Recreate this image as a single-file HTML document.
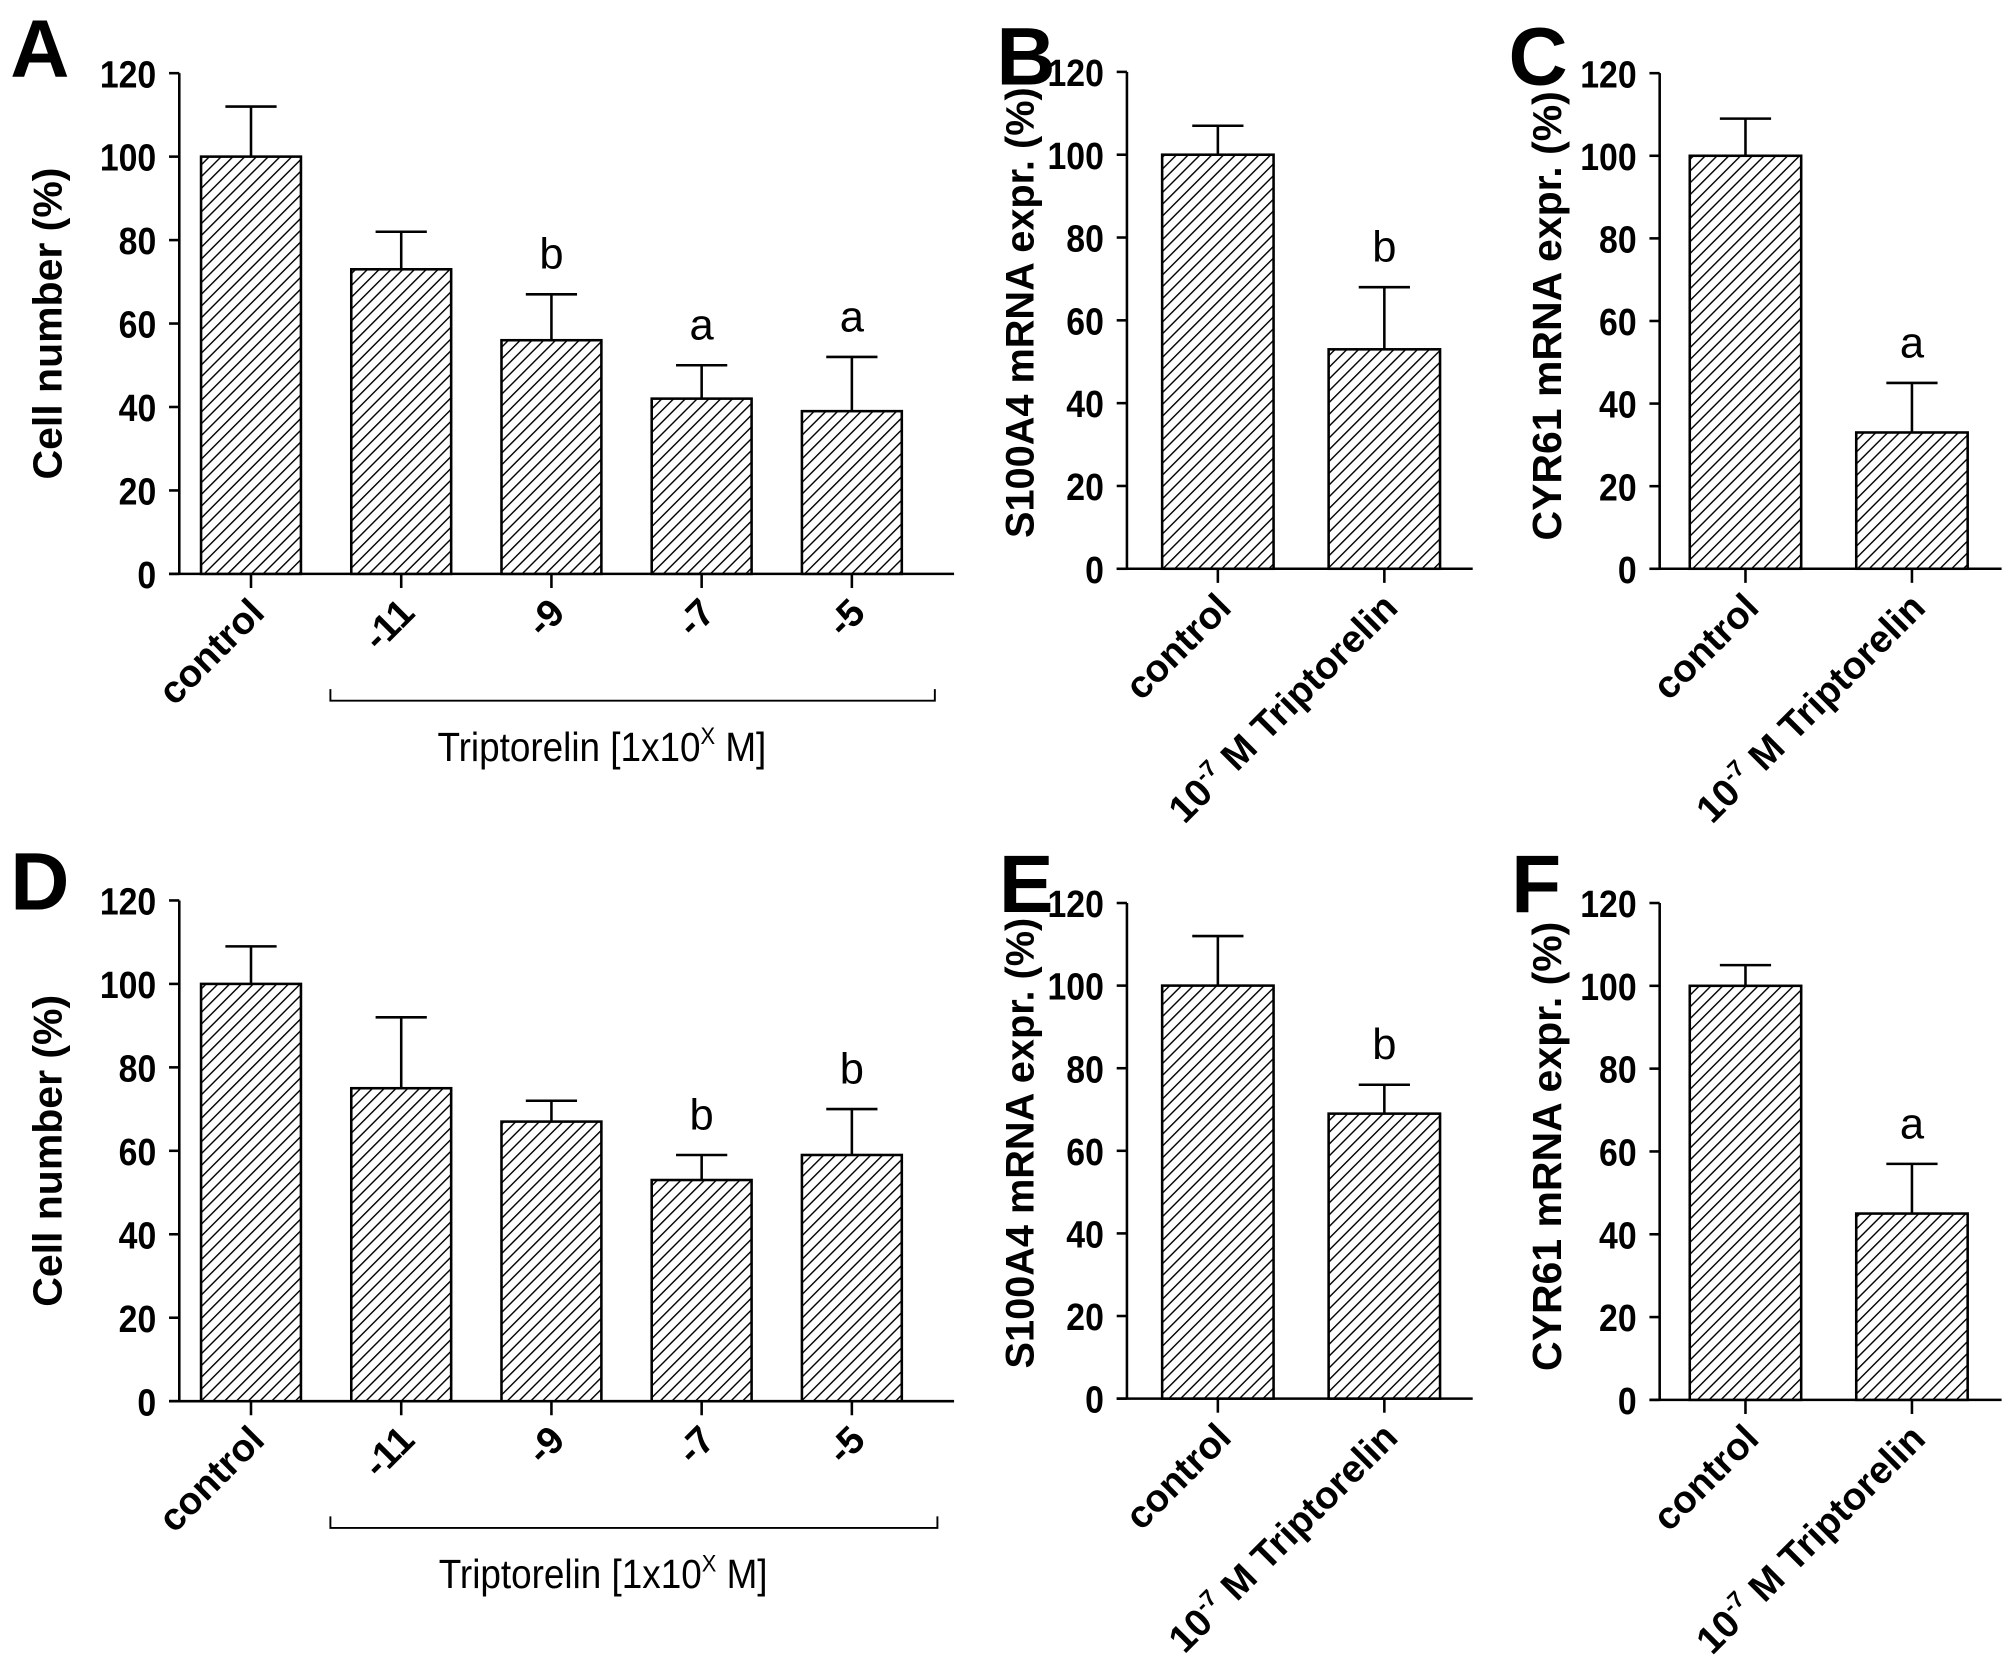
<!DOCTYPE html>
<html><head><meta charset="utf-8">
<style>
html,body{margin:0;padding:0;background:#fff;}
svg{display:block;}
text{font-family:"Liberation Sans",sans-serif;fill:#000;}
.tick{font-weight:bold;font-size:30px;}
.ylab{font-weight:bold;}
.xlab{font-weight:bold;font-size:30px;}
.panel{font-weight:bold;font-size:64px;}
.sig{font-size:34px;}
.grp{font-size:32px;}
</style></head>
<body>
<svg id="fig" width="2008" height="1669" viewBox="0 0 1568 1303" xmlns="http://www.w3.org/2000/svg">
<defs>
<pattern id="hatch" patternUnits="userSpaceOnUse" width="6.5" height="6.5" patternTransform="rotate(45)">
<rect width="6.5" height="6.5" fill="#fff"/>
<line x1="0" y1="0" x2="0" y2="6.5" stroke="#000" stroke-width="2.2"/>
</pattern>
</defs>
</svg>
<script>
// Panel A
const catsA = ["control","-11","-9","-7","-5"];
const valsA = [100,73,56,42,39];
const errsA = [12,9,11,8,13];
const sigA = ["","","b","a","a"];
// Panel B
const catsB = ["control","10|-7| M Triptorelin"];
const valsB = [100,53];
const errsB = [7,15];
const sigB = ["","b"];
// Panel C
const catsC = ["control","10|-7| M Triptorelin"];
const valsC = [100,33];
const errsC = [9,12];
const sigC = ["","a"];
// Panel D
const catsD = ["control","-11","-9","-7","-5"];
const valsD = [100,75,67,53,59];
const errsD = [9,17,5,6,11];
const sigD = ["","","","b","b"];
// Panel E
const catsE = ["control","10|-7| M Triptorelin"];
const valsE = [100,69];
const errsE = [12,7];
const sigE = ["","b"];
// Panel F
const catsF = ["control","10|-7| M Triptorelin"];
const valsF = [100,45];
const errsF = [5,12];
const sigF = ["","a"];
const yTicks = [0,20,40,60,80,100,120];

const NS="http://www.w3.org/2000/svg";
const svg=document.getElementById('fig');
function mk(tag,attrs,parent){const e=document.createElementNS(NS,tag);for(const k in attrs)e.setAttribute(k,attrs[k]);(parent||svg).appendChild(e);return e;}

function panel(o){
  const g=mk('g',{});
  
  
  const y=v=>o.y0-(v/120)*(o.y0-o.y120);
  const x=i=>o.c0+i*o.step;
  const L=mk('text',{x:o.lx,y:o.ly,class:'panel'},g);L.textContent=o.letter;
  
  
  const yl=mk('text',{x:0,y:0,class:'ylab','font-size':o.yfs,'text-anchor':'middle',transform:`translate(${o.ylx},${(o.y0+o.y120)/2+o.yoff}) rotate(-90)`},g);
  yl.textContent=o.ylabel;
  
  
  const ya=mk('line',{x1:o.ax,y1:o.y120,x2:o.ax,y2:o.y0,stroke:'#000','stroke-width':2},g);
  
  
  const xa=mk('line',{x1:o.ax-8,y1:o.y0,x2:o.axEnd,y2:o.y0,stroke:'#000','stroke-width':2},g);
  
  
  yTicks.forEach(t=>{
    mk('line',{x1:o.ax-8,y1:y(t),x2:o.ax,y2:y(t),stroke:'#000','stroke-width':2},g);
    const tl=mk('text',{x:0,y:0,class:'tick','text-anchor':'end',transform:`translate(${o.ax-18},${y(t)+11}) scale(0.88,1)`},g);tl.textContent=t;
    
    
  });
  o.cats.forEach((c,i)=>{
    const cx=x(i);
    const top=y(o.vals[i]);
    const r=mk('rect',{x:cx-o.bw/2,y:top,width:o.bw,height:o.y0-top,fill:'url(#hatch)',stroke:'#000','stroke-width':2},g);
    
    
    const et=y(o.vals[i]+o.errs[i]);
    const e1=mk('line',{x1:cx,y1:top,x2:cx,y2:et,stroke:'#000','stroke-width':2},g);
    
    
    mk('line',{x1:cx-20,y1:et,x2:cx+20,y2:et,stroke:'#000','stroke-width':2},g);
    mk('line',{x1:cx,y1:o.y0,x2:cx,y2:o.y0+11,stroke:'#000','stroke-width':2},g);
    if(o.sig[i]){
      const s=mk('text',{x:cx,y:et-20,class:'sig','text-anchor':'middle'},g);s.textContent=o.sig[i];
      
      
    }
    const t=mk('text',{x:0,y:0,class:'xlab','text-anchor':'end',transform:`translate(${cx+12},${o.y0+32}) rotate(-45)`},g);
    
    
    const parts=c.split('|');
    if(parts.length===3){
      const a=mk('tspan',{},t);a.textContent=parts[0];
      const b=mk('tspan',{dy:-12,'font-size':18},t);b.textContent=parts[1];
      const d=mk('tspan',{dy:12},t);d.textContent=parts[2];
    } else t.textContent=c;
  });
  if(o.bracket){
    const by=o.y0+99;
    mk('path',{d:`M${o.bx1},${by-9} V${by} H${o.bx2} V${by-9}`,fill:'none',stroke:'#000','stroke-width':1.5},g);
    const gt=mk('text',{x:0,y:0,class:'grp','text-anchor':'middle',transform:`translate(${(o.bx1+o.bx2)/2-24},${by+47}) scale(0.9,1)`},g);
    
    
    const a=mk('tspan',{},gt);a.textContent='Triptorelin [1x10';
    const b=mk('tspan',{dy:-13,'font-size':19},gt);b.textContent='X';
    const d=mk('tspan',{dy:13},gt);d.textContent=' M]';
  }
}
panel({letter:'A',lx:8,ly:60,yfs:32,yoff:0,ylabel:'Cell number (%)',ylx:48,ax:140,axEnd:745,y0:448,y120:57,c0:196,step:117.3,bw:78,cats:catsA,vals:valsA,errs:errsA,sig:sigA,bracket:true,bx1:258,bx2:730});
panel({letter:'B',lx:778,ly:66,yfs:31,yoff:-6,ylabel:'S100A4 mRNA expr. (%)',ylx:807,ax:880,axEnd:1150,y0:444,y120:56,c0:951,step:130,bw:87,cats:catsB,vals:valsB,errs:errsB,sig:sigB});
panel({letter:'C',lx:1178,ly:66,yfs:32,yoff:-4,ylabel:'CYR61 mRNA expr. (%)',ylx:1219,ax:1296,axEnd:1563,y0:444,y120:57,c0:1363,step:130,bw:87,cats:catsC,vals:valsC,errs:errsC,sig:sigC});
panel({letter:'D',lx:8,ly:710,yfs:32,yoff:0,ylabel:'Cell number (%)',ylx:48,ax:140,axEnd:745,y0:1094,y120:703,c0:196,step:117.3,bw:78,cats:catsD,vals:valsD,errs:errsD,sig:sigD,bracket:true,bx1:258,bx2:732});
panel({letter:'E',lx:780,ly:712,yfs:31,yoff:-6,ylabel:'S100A4 mRNA expr. (%)',ylx:807,ax:880,axEnd:1150,y0:1092,y120:705,c0:951,step:130,bw:87,cats:catsE,vals:valsE,errs:errsE,sig:sigE});
panel({letter:'F',lx:1180,ly:712,yfs:32,yoff:-4,ylabel:'CYR61 mRNA expr. (%)',ylx:1219,ax:1296,axEnd:1563,y0:1093,y120:705,c0:1363,step:130,bw:87,cats:catsF,vals:valsF,errs:errsF,sig:sigF});
</script>
</body></html>
